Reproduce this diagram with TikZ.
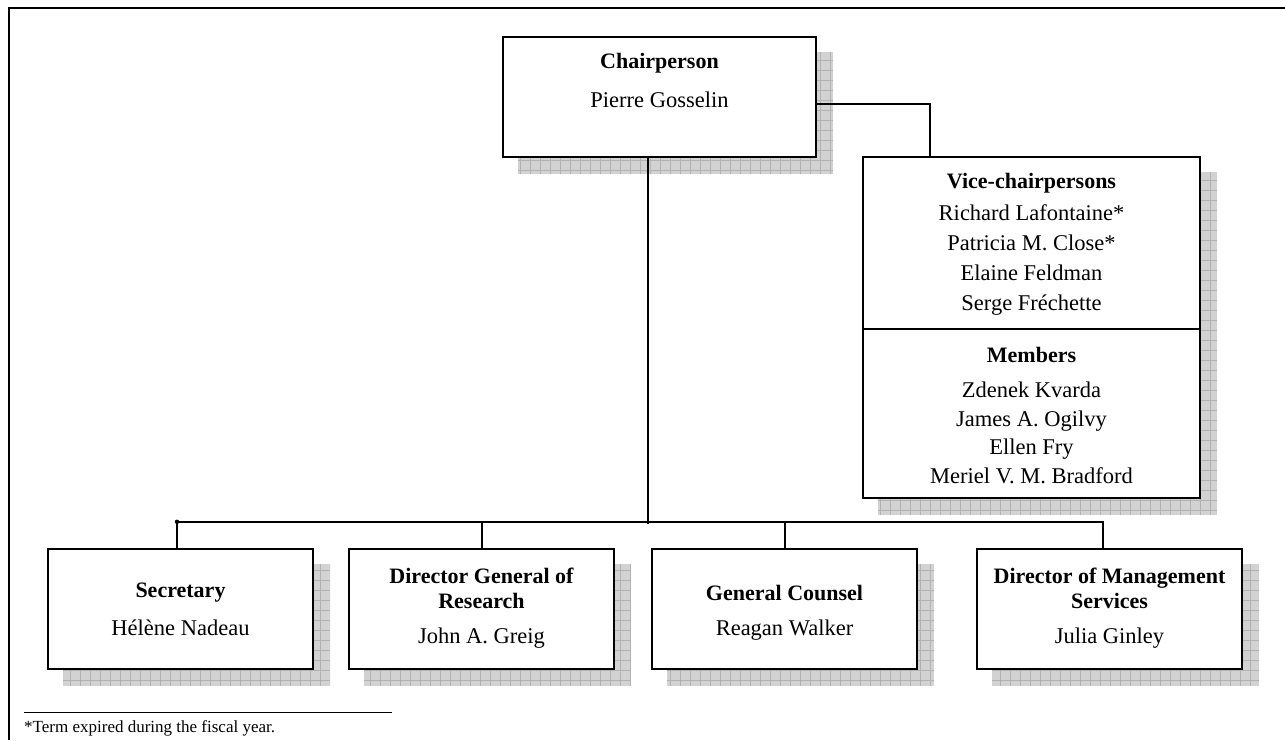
\documentclass[tikz,border=0pt]{standalone}
\usepackage{fontspec}
\setmainfont{Liberation Serif}
\usetikzlibrary{backgrounds}
\tikzstyle{office}=[rectangle, draw, line width=2.4pt, fill=white, inner sep=0pt]
\tikzstyle{rank}=[inner sep=0pt, align=center, font=\bfseries\fontsize{22}{25}\selectfont]
\tikzstyle{who}=[inner sep=0pt, text height=15pt, text depth=5pt, font=\fontsize{22.5}{26}\selectfont]
\tikzstyle{link}=[line width=2pt]
\tikzstyle{dropfill}=[fill=gray!35, path picture={\draw[gray!60, line width=0.7pt] (path picture bounding box.south west) grid[step=10pt] (path picture bounding box.north east);}]
\newcommand{\office}{\node[office]}

\begin{document}
\begin{tikzpicture}[x=1pt, y=-1pt]
\useasboundingbox (0,0) rectangle (1285,740);
% frame
\draw[link] (9,740) -- (9,8) -- (1285,8);

% boxes
\office[minimum width=313, minimum height=120] (chair) at (659.5,97) {};
\office[minimum width=337, minimum height=341] (vice) at (1031.5,327.5) {};
\office[minimum width=265, minimum height=120] (sec) at (180.5,609) {};
\office[minimum width=265, minimum height=120] (dgr) at (481.5,609) {};
\office[minimum width=265, minimum height=120] (counsel) at (784.5,609) {};
\office[minimum width=265, minimum height=120] (dms) at (1109.5,609) {};

\begin{scope}[on background layer]
\foreach \b in {chair,vice,sec,dgr,counsel,dms}
  \path[dropfill] ([xshift=16pt,yshift=-16pt]\b.south west) rectangle ([xshift=16pt,yshift=-16pt]\b.north east);
\end{scope}

% texts
\node[rank] (chairT) at (659.5,63) {Chairperson};
\node[who] (chairN) at (659.5,102) {Pierre Gosselin};

\node[rank] (viceT) at (1031.5,183) {Vice-chairpersons};
\foreach \n/\y [count=\i] in {Richard Lafontaine*/215, Patricia M. Close*/245, Elaine Feldman/275, Serge Fréchette/305}
  \node[who] (vc\i) at (1031.5,\y) {\n};
\draw[link] (vice.west |- 0,329) -- (vice.east |- 0,329);
\node[rank] (memT) at (1031.5,355) {Members};
\foreach \n/\y [count=\i] in {Zdenek Kvarda/392, James A. Ogilvy/421, Ellen Fry/449, Meriel V. M. Bradford/478}
  \node[who] (mem\i) at (1031.5,\y) {\n};

\node[rank] (secT) at (180.5,593) {Secretary};
\node[who] (secN) at (180.5,630) {Hélène Nadeau};
\node[rank] (dgrT) at (481.5,588) {Director General of\\Research};
\node[who] (dgrN) at (481.5,638) {John A. Greig};
\node[rank] (counselT) at (784.5,593) {General Counsel};
\node[who] (counselN) at (784.5,630) {Reagan Walker};
\node[rank] (dmsT) at (1109.5,588) {Director of Management\\Services};
\node[who] (dmsN) at (1109.5,638) {Julia Ginley};

% connectors
\draw[link] ([yshift=-7pt]chair.east) -| ([xshift=-101.5pt]vice.north);
\draw[link] ([xshift=-3.5pt]sec.north) -- ++(0,-26) coordinate (busL) -| ([xshift=-6.5pt]dms.north);
\fill (busL) circle (2.2pt);
\draw[link] (dgr.north) -- ++(0,-26);
\draw[link] (counsel.north) -- ++(0,-26);
\draw[link] ([xshift=-11.5pt]chair.south) -- ++(0,366);

% footnote
\draw[line width=1pt] (24,712) -- (392,712);
\node[anchor=west, inner sep=0pt, font=\fontsize{17}{20}\selectfont] (note) at (24,728) {*Term expired during the fiscal year.};
\end{tikzpicture}
\end{document}
